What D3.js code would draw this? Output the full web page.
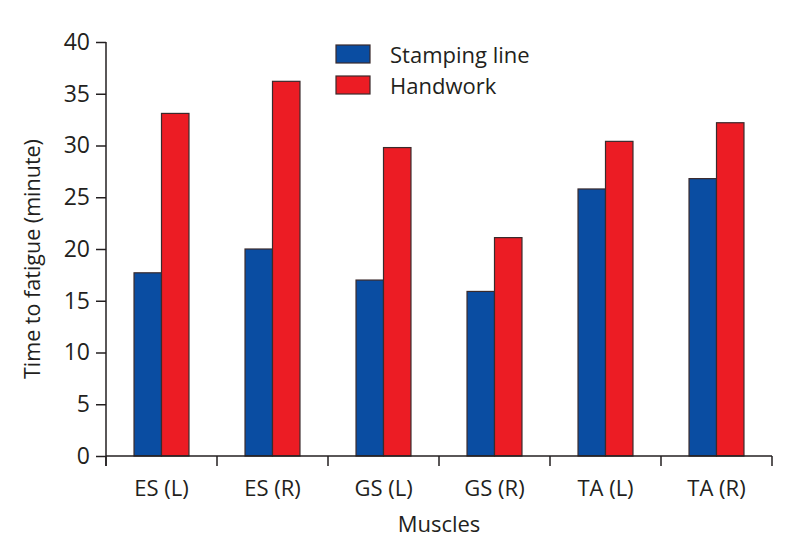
<!DOCTYPE html>
<html><head><meta charset="utf-8">
<script src="https://cdn.jsdelivr.net/npm/d3@7"></script>
<style>body{margin:0;background:#fff}svg text{font-family:"Open Sans",sans-serif;fill:#231f20}</style>
</head><body>
<script>
const categories = ["ES (L)","ES (R)","GS (L)","GS (R)","TA (L)","TA (R)"];
const seriesNames = ["Stamping line","Handwork"];
const stamping = [17.7, 20.0, 17.0, 15.9, 25.8, 26.8];
const handwork = [33.1, 36.2, 29.8, 21.1, 30.4, 32.2];
const yTicks = [0,5,10,15,20,25,30,35,40];
const colors = ["#0a4da2","#ec1c24"];

const W=788,H=546;
const svg=d3.select("body").append("svg").attr("width",W).attr("height",H);
const x=d3.scaleBand().domain(categories).range([106,772]).paddingInner(0).paddingOuter(0);
const xi=d3.scaleBand().domain(seriesNames).range([0,x.bandwidth()]).paddingInner(0).paddingOuter(1.02);
const y=d3.scaleLinear().domain([0,40]).range([456,42]);

const data=categories.map((c,i)=>({c,vals:[stamping[i],handwork[i]]}));
const g=svg.append("g");
g.selectAll("g.grp").data(data).join("g").attr("class","grp")
 .attr("transform",d=>`translate(${x(d.c)},0)`)
 .selectAll("rect").data(d=>d.vals.map((v,j)=>({v,j})))
 .join("rect")
 .attr("x",d=>xi(seriesNames[d.j])).attr("width",xi.bandwidth())
 .attr("y",d=>y(d.v)).attr("height",d=>y(0)-y(d.v))
 .attr("fill",d=>colors[d.j]).attr("stroke","#3a2a2c").attr("stroke-width",1.2);

// y axis
const ya=svg.append("g").attr("transform","translate(106,0)")
 .call(d3.axisLeft(y).tickValues(yTicks).tickSize(10).tickPadding(6).tickSizeOuter(0));
ya.select(".domain").attr("d","M0,42V466");
ya.selectAll("line,path").attr("stroke","#231f20").attr("stroke-width",1.5);
ya.selectAll("text").attr("font-size",23).attr("font-family","'Open Sans',sans-serif").attr("fill","#231f20");

// x axis
const xa=svg.append("g").attr("transform","translate(0,456)")
 .call(d3.axisBottom(x).tickSize(0).tickPadding(24).tickSizeOuter(0));
xa.select(".domain").attr("d","M106,0H772");
xa.selectAll("line,path").attr("stroke","#231f20").attr("stroke-width",1.5);
xa.selectAll("text").attr("font-size",22).attr("font-family","'Open Sans',sans-serif").attr("fill","#231f20");
const bounds=categories.map(c=>x(c)).concat([x.range()[1]]);
xa.selectAll("line.sep").data(bounds).join("line").attr("class","sep")
 .attr("x1",d=>d).attr("x2",d=>d).attr("y1",0).attr("y2",10)
 .attr("stroke","#231f20").attr("stroke-width",1.5);

// axis titles
svg.append("text").attr("x",439).attr("y",532).attr("text-anchor","middle").attr("font-size",22).text("Muscles");
svg.append("text").attr("transform","translate(40,259) rotate(-90)").attr("text-anchor","middle").attr("font-size",21.5).text("Time to fatigue (minute)");

// legend
const lg=svg.append("g");
seriesNames.forEach((s,i)=>{
  lg.append("rect").attr("x",336).attr("y",45+i*31).attr("width",34).attr("height",18)
    .attr("fill",colors[i]).attr("stroke","#3a2a2c").attr("stroke-width",1.2);
  lg.append("text").attr("x",390).attr("y",63+i*31).attr("font-size",22).text(s);
});
</script>
</body></html>
